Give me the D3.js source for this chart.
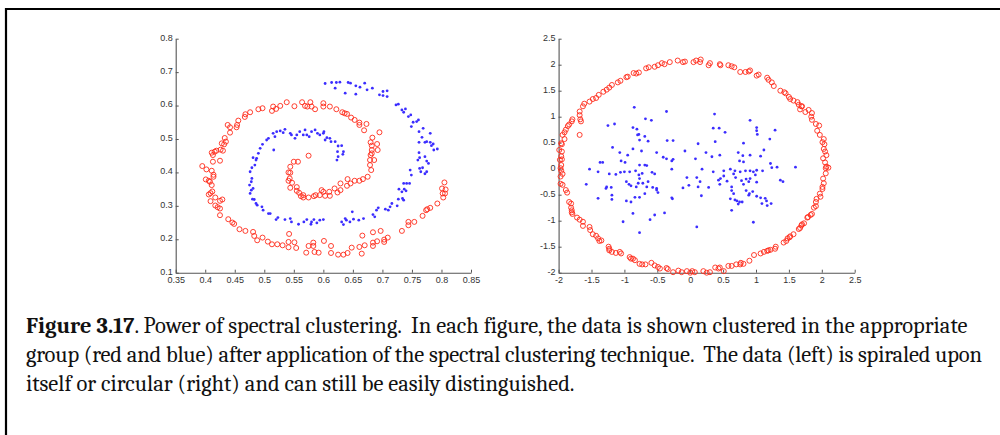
<!DOCTYPE html>
<html>
<head>
<meta charset="utf-8">
<script src="https://cdn.jsdelivr.net/npm/d3@7"></script>
<style>
  html, body { margin: 0; padding: 0; background: #fff; }
  svg { display: block; }
  .caption text { white-space: pre; }
</style>
</head>
<body>
<svg id="fig" width="1000" height="435"></svg>
<script>
// ---- Spiral data set (left panel) ----
const spiralXTicks = [0.35, 0.4, 0.45, 0.5, 0.55, 0.6, 0.65, 0.7, 0.75, 0.8, 0.85];
const spiralYTicks = [0.1, 0.2, 0.3, 0.4, 0.5, 0.6, 0.7, 0.8];

const spiralRed = [
  [0.395,0.419],[0.402,0.409],[0.411,0.405],[0.414,0.393],[0.414,0.387],[0.401,0.379],[0.406,0.375],[0.408,0.372],
  [0.411,0.362],[0.412,0.343],[0.409,0.338],[0.406,0.334],[0.409,0.314],[0.417,0.325],[0.425,0.315],[0.429,0.319],
  [0.417,0.301],[0.421,0.296],[0.425,0.292],[0.425,0.272],[0.439,0.26],[0.446,0.25],[0.449,0.246],[0.458,0.23],
  [0.468,0.225],[0.481,0.222],[0.483,0.21],[0.488,0.197],[0.497,0.205],[0.506,0.193],[0.513,0.185],[0.522,0.185],
  [0.531,0.182],[0.542,0.216],[0.541,0.192],[0.541,0.176],[0.551,0.191],[0.554,0.174],[0.571,0.16],[0.575,0.18],
  [0.583,0.19],[0.583,0.18],[0.585,0.162],[0.592,0.16],[0.601,0.195],[0.613,0.18],[0.613,0.159],[0.625,0.154],
  [0.634,0.154],[0.641,0.159],[0.648,0.175],[0.666,0.211],[0.661,0.177],[0.665,0.157],[0.670,0.182],[0.684,0.221],
  [0.684,0.19],[0.684,0.18],[0.691,0.194],[0.697,0.225],[0.703,0.199],[0.703,0.192],[0.709,0.205],[0.733,0.225],
  [0.744,0.252],[0.744,0.242],[0.754,0.252],[0.768,0.27],[0.774,0.287],[0.781,0.294],[0.776,0.29],[0.793,0.307],
  [0.801,0.352],[0.803,0.325],[0.806,0.337],[0.807,0.349],[0.802,0.337],[0.805,0.37],
  [0.438,0.542],[0.442,0.535],[0.442,0.519],[0.433,0.503],[0.435,0.492],[0.432,0.484],[0.428,0.487],[0.426,0.468],
  [0.430,0.465],[0.411,0.459],[0.416,0.462],[0.419,0.465],[0.413,0.452],[0.413,0.432],[0.425,0.435],[0.454,0.542],
  [0.456,0.555],[0.453,0.535],[0.468,0.574],[0.476,0.58],[0.467,0.566],[0.49,0.589],[0.497,0.592],[0.515,0.597],
  [0.520,0.59],[0.513,0.584],[0.527,0.599],[0.538,0.61],[0.551,0.598],[0.564,0.61],[0.569,0.599],[0.578,0.61],
  [0.573,0.597],[0.580,0.597],[0.586,0.589],[0.600,0.607],[0.600,0.597],[0.611,0.597],[0.622,0.589],[0.632,0.58],
  [0.636,0.577],[0.640,0.575],[0.647,0.564],[0.653,0.557],[0.661,0.549],[0.661,0.542],[0.673,0.545],[0.669,0.526],
  [0.683,0.504],[0.680,0.49],[0.682,0.48],[0.691,0.485],[0.695,0.52],[0.692,0.467],[0.682,0.467],[0.682,0.457],
  [0.680,0.452],[0.686,0.437],[0.679,0.437],[0.679,0.422],[0.681,0.407],[0.675,0.387],[0.667,0.38],[0.661,0.375],
  [0.653,0.375],[0.646,0.367],[0.640,0.36],[0.641,0.38],[0.629,0.367],[0.629,0.347],[0.624,0.34],[0.619,0.352],
  [0.610,0.342],[0.611,0.33],[0.603,0.33],[0.600,0.342],[0.594,0.332],[0.597,0.347],[0.587,0.332],[0.584,0.329],
  [0.575,0.45],[0.550,0.432],[0.557,0.432],[0.544,0.417],[0.541,0.40],[0.544,0.399],[0.543,0.382],[0.541,0.375],
  [0.547,0.369],[0.544,0.354],[0.555,0.356],[0.555,0.345],[0.559,0.339],[0.562,0.329],[0.566,0.332],[0.566,0.325],
  [0.575,0.325]
];

const spiralBlue = [
  [0.603,0.666],[0.614,0.669],[0.620,0.652],[0.622,0.669],[0.628,0.67],[0.637,0.637],[0.642,0.669],[0.646,0.667],
  [0.655,0.659],[0.655,0.634],[0.662,0.655],[0.670,0.667],[0.674,0.647],[0.683,0.652],[0.695,0.632],[0.701,0.642],
  [0.701,0.63],[0.708,0.644],[0.708,0.627],[0.723,0.602],[0.727,0.604],[0.733,0.587],[0.736,0.58],[0.739,0.59],
  [0.744,0.567],[0.748,0.572],[0.752,0.55],[0.761,0.557],[0.758,0.552],[0.762,0.522],[0.749,0.537],[0.769,0.532],
  [0.767,0.505],[0.762,0.49],[0.772,0.49],[0.781,0.49],[0.781,0.517],[0.786,0.485],[0.783,0.48],[0.775,0.492],
  [0.793,0.47],[0.787,0.467],[0.762,0.459],[0.763,0.444],[0.760,0.437],[0.772,0.447],[0.775,0.434],[0.763,0.412],
  [0.768,0.414],[0.765,0.402],[0.772,0.396],[0.775,0.402],[0.778,0.427],[0.747,0.407],[0.749,0.392],[0.741,0.367],
  [0.736,0.367],[0.746,0.367],[0.737,0.35],[0.740,0.345],[0.733,0.342],[0.728,0.35],[0.727,0.32],[0.734,0.322],
  [0.736,0.317],[0.716,0.307],[0.725,0.3],[0.713,0.297],[0.710,0.287],[0.705,0.29],[0.693,0.294],[0.690,0.287],
  [0.684,0.274],[0.687,0.267],[0.668,0.262],[0.660,0.257],[0.651,0.26],[0.649,0.282],[0.645,0.252],[0.639,0.257],
  [0.637,0.262],[0.631,0.252],[0.634,0.244],
  [0.600,0.259],[0.594,0.257],[0.589,0.249],[0.584,0.259],[0.580,0.252],[0.579,0.245],[0.572,0.259],[0.567,0.252],
  [0.558,0.245],[0.546,0.252],[0.544,0.262],[0.535,0.259],[0.523,0.265],[0.520,0.259],[0.510,0.277],[0.507,0.277],
  [0.498,0.287],[0.496,0.297],[0.488,0.302],[0.486,0.307],[0.483,0.319],[0.480,0.32],[0.476,0.337],[0.478,0.347],
  [0.481,0.352],[0.475,0.362],[0.478,0.372],[0.479,0.382],[0.476,0.402],[0.479,0.414],[0.484,0.422],[0.486,0.437],
  [0.487,0.442],[0.481,0.444],[0.490,0.457],[0.493,0.472],[0.497,0.484],[0.504,0.497],[0.507,0.502],[0.518,0.507],
  [0.515,0.517],[0.521,0.522],[0.527,0.524],[0.532,0.519],[0.535,0.529],[0.544,0.517],[0.546,0.512],[0.552,0.502],
  [0.555,0.512],[0.560,0.522],[0.566,0.512],[0.569,0.527],[0.572,0.512],[0.576,0.507],[0.580,0.522],[0.586,0.527],
  [0.590,0.517],[0.594,0.512],[0.600,0.517],[0.601,0.522],[0.603,0.497],[0.606,0.504],[0.611,0.502],[0.613,0.492],
  [0.620,0.492],[0.625,0.479],[0.624,0.462],[0.631,0.48],[0.634,0.462],[0.633,0.454],[0.625,0.447],[0.623,0.437],
  [0.516,0.467]
];

// ---- Ring data set (right panel) ----
const ringXTicks = [-2, -1.5, -1, -0.5, 0, 0.5, 1, 1.5, 2, 2.5];
const ringYTicks = [-2, -1.5, -1, -0.5, 0, 0.5, 1, 1.5, 2, 2.5];

const ringRed = [
  [-0.43,2.03],[-0.39,2.01],[-0.31,2.05],[-0.19,2.08],[-0.11,2.05],[-0.08,2.06],[0.05,2.05],[0.09,2.08],
  [0.16,2.10],[0.15,2.05],[0.30,2.03],[0.28,1.99],[0.45,2.01],[0.46,1.99],[0.58,1.99],[0.63,1.97],
  [0.67,1.95],[0.76,1.86],[0.84,1.86],[0.89,1.87],[0.91,1.89],[1.01,1.79],[1.04,1.81],[1.17,1.75],
  [1.19,1.71],[1.24,1.66],[1.27,1.59],[1.37,1.50],[1.43,1.47],[1.45,1.45],[1.50,1.38],[1.52,1.34],
  [1.57,1.31],[1.63,1.28],[1.65,1.23],[1.69,1.20],[1.70,1.20],[1.67,1.14],[1.75,1.09],[1.80,1.13],
  [1.85,1.07],[1.84,1.00],[1.85,0.94],[1.91,0.86],[1.96,0.83],[1.93,0.73],[1.97,0.65],[2.03,0.57],
  [2.01,0.51],[2.04,0.47],[2.03,0.38],[2.05,0.33],[2.07,0.26],[2.02,0.20],[2.05,0.12],[2.10,0.02],
  [2.07,0.04],[2.06,0.01],[2.06,-0.09],[2.02,-0.19],[2.03,-0.28],[2.01,-0.35],[2.01,-0.39],[1.97,-0.48],
  [1.98,-0.54],[1.92,-0.58],[1.91,-0.64],[1.91,-0.72],[1.88,-0.75],[1.85,-0.87],[1.83,-0.89],[1.79,-0.93],
  [1.78,-0.94],[1.73,-1.05],[1.70,-1.07],[1.69,-1.09],[1.67,-1.14],[1.65,-1.16],[1.57,-1.26],[1.52,-1.30],
  [1.51,-1.32],[1.48,-1.34],[1.46,-1.39],[1.42,-1.42],[1.30,-1.50],[1.29,-1.54],[1.22,-1.56],[1.19,-1.57],
  [1.17,-1.58],[1.12,-1.60],[1.07,-1.63],[0.97,-1.66],[0.90,-1.77],[0.81,-1.83],[0.77,-1.81],[0.76,-1.84],
  [0.70,-1.84],[0.63,-1.87],[0.58,-1.87],[0.51,-1.97],[0.45,-1.90],[0.43,-1.92],[0.38,-1.90],[0.30,-1.99],
  [0.25,-2.00],[0.20,-1.97],[0.07,-1.99],[0.03,-1.97],[0.00,-2.00],[-0.05,-1.97],[-0.13,-1.99],[-0.18,-1.96],
  [-0.26,-1.99],[-0.34,-1.93],[-0.36,-1.91],[-0.46,-1.92],[-0.49,-1.89],[-0.54,-1.86],[-0.59,-1.81],[-0.68,-1.84],
  [-0.73,-1.84],[-0.77,-1.83],[-0.84,-1.76],[-0.87,-1.73],[-0.90,-1.73],[-0.92,-1.70],[-1.05,-1.63],[-1.07,-1.60],
  [-1.13,-1.62],[-1.19,-1.60],[-1.23,-1.57],[-1.23,-1.54],[-1.24,-1.50],[-1.35,-1.38],[-1.38,-1.39],[-1.40,-1.34],
  [-1.43,-1.29],[-1.48,-1.26],[-1.52,-1.18],[-1.53,-1.12],[-1.63,-1.10],[-1.63,-1.02],[-1.68,-0.98],[-1.72,-0.94],
  [-1.79,-0.87],[-1.80,-0.84],[-1.80,-0.80],[-1.81,-0.75],[-1.81,-0.67],[-1.84,-0.64],[-1.87,-0.46],[-1.89,-0.41],
  [-1.94,-0.31],[-1.97,-0.29],[-1.97,-0.15],[-1.94,-0.10],[-1.96,-0.04],[-1.97,0.01],[-1.96,0.07],[-1.98,0.17],
  [-1.95,0.18],[-1.96,0.24],[-1.95,0.33],[-1.99,0.36],[-1.95,0.47],[-1.96,0.49],[-1.91,0.57],[-1.94,0.65],
  [-1.91,0.70],[-1.89,0.75],[-1.86,0.82],[-1.84,0.85],[-1.80,0.91],[-1.79,0.95],[-1.66,0.91],[-1.67,0.95],
  [-1.68,1.03],[-1.68,1.10],[-1.63,1.20],[-1.61,1.25],[-1.53,1.29],[-1.48,1.34],[-1.43,1.36],[-1.39,1.42],
  [-1.32,1.48],[-1.27,1.52],[-1.23,1.56],[-1.19,1.61],[-1.10,1.66],[-1.06,1.69],[-0.97,1.76],[-0.95,1.77],
  [-0.86,1.84],[-0.82,1.83],[-0.78,1.85],[-0.67,1.93],[-0.63,1.95],[-0.54,1.96],[-0.49,1.99],[-1.68,0.65]
];

const ringBlue = [
  [-0.85,1.18],[-0.36,1.10],[0.37,1.05],[-0.68,0.96],[-0.59,0.93],[-1.25,0.83],[-1.15,0.86],[0.91,0.93],
  [1.01,0.79],[1.01,0.73],[1.02,0.66],[1.29,0.74],[-0.35,0.54],[-0.26,0.54],[-0.78,0.66],[-0.80,0.65],
  [-0.77,0.55],[-0.64,0.53],[-0.87,0.79],[-0.81,0.76],[-0.69,0.62],[0.35,0.78],[0.44,0.78],[0.38,0.52],
  [0.53,0.70],[0.81,0.49],[0.12,0.48],[-1.18,0.41],[-0.08,0.34],[-0.87,0.38],[-0.74,0.34],[-0.51,0.31],
  [-1.07,0.31],[-0.95,0.26],[-0.41,0.22],[-0.36,0.19],[-0.26,0.18],[-0.28,0.15],[1.21,0.57],[1.12,0.36],
  [1.07,0.24],[0.91,0.26],[0.80,0.25],[0.73,0.31],[0.81,0.13],[0.75,0.15],[0.45,0.26],[0.33,0.23],
  [0.24,0.31],[0.08,0.19],[-1.37,0.12],[-1.33,0.12],[-1.05,0.15],[-0.99,0.12],[-0.77,0.07],[-0.69,0.07],
  [-0.66,0.06],[-1.53,-0.01],[-1.40,-0.06],[-1.23,-0.10],[-1.13,-0.11],[-1.06,-0.07],[-1.00,-0.06],[-0.92,-0.06],
  [-0.83,-0.04],[-0.73,-0.09],[-0.78,-0.12],[-0.58,-0.07],[-0.54,-0.10],[-0.28,-0.01],[1.24,0.02],[1.32,0.03],
  [1.22,0.10],[1.60,0.03],[0.18,-0.01],[0.35,-0.06],[0.51,-0.04],[0.61,-0.01],[0.68,-0.04],[0.76,-0.06],
  [0.66,-0.10],[0.84,-0.04],[0.91,-0.04],[0.96,-0.06],[1.01,-0.03],[1.10,-0.04],[0.99,-0.12],[0.91,-0.19],
  [0.85,-0.20],[0.78,-0.23],[0.69,-0.17],[0.51,-0.14],[0.46,-0.19],[0.43,-0.22],[0.56,-0.24],[-0.05,-0.17],
  [0.10,-0.17],[0.15,-0.25],[1.37,-0.22],[1.41,-0.25],[-1.58,-0.30],[-1.27,-0.35],[-1.28,-0.38],[-1.20,-0.36],
  [-0.97,-0.25],[-0.93,-0.30],[-0.90,-0.33],[-0.82,-0.35],[-0.77,-0.19],[-0.79,-0.28],[-0.72,-0.28],[-0.66,-0.35],
  [-0.64,-0.25],[-0.57,-0.36],[-0.51,-0.38],[-0.11,-0.37],[-0.02,-0.32],[0.12,-0.35],[0.28,-0.36],[0.45,-0.30],
  [0.63,-0.35],[0.81,-0.30],[0.89,-0.25],[1.01,-0.26],[0.63,-0.42],[0.66,-0.48],[0.85,-0.42],[0.95,-0.44],
  [0.90,-0.48],[1.07,-0.56],[1.14,-0.57],[1.16,-0.62],[1.01,-0.53],[1.09,-0.67],[1.23,-0.67],[1.17,-0.71],
  [0.61,-0.58],[0.68,-0.60],[0.71,-0.62],[0.75,-0.64],[0.79,-0.64],[0.73,-0.68],[0.63,-0.80],[0.89,-0.51],
  [-1.19,-0.51],[-1.19,-0.59],[-0.97,-0.62],[-0.90,-0.64],[-0.84,-0.55],[-0.77,-0.55],[-0.69,-0.48],[-0.51,-0.41],
  [-0.49,-0.46],[-0.27,-0.58],[-0.28,-0.56],[0.17,-0.52],[-1.40,-0.57],[-0.87,-0.86],[-0.61,-0.98],[-0.54,-0.89],
  [-0.39,-0.85],[-1.02,-1.02],[0.10,-1.12],[0.96,-1.03],[-0.77,-1.23]
];

// ---- Caption ----
const captionLines = [
  [{ t: "Figure 3.17", b: true }, { t: ". Power of spectral clustering.  In each figure, the data is shown clustered in the appropriate", b: false }],
  [{ t: "group (red and blue) after application of the spectral clustering technique.  The data (left) is spiraled upon", b: false }],
  [{ t: "itself or circular (right) and can still be easily distinguished.", b: false }]
];
// line widths of the set caption block
const captionWidths = [942, 956, 547];

const svg = d3.select("#fig");

// page frame (top and left rules of the bordered box)
svg.append("path")
  .attr("d", "M6,435 V9 H1000")
  .attr("fill", "none")
  .attr("stroke", "#000")
  .attr("stroke-width", 2.2);

const fmt = v => String(v);

function panel(cfg) {
  const x = d3.scaleLinear().domain(cfg.xDomain).range(cfg.xRange);
  const y = d3.scaleLinear().domain(cfg.yDomain).range(cfg.yRange);
  const g = svg.append("g");

  const xAxis = d3.axisBottom(x).tickValues(cfg.xTicks).tickFormat(fmt)
    .tickSizeInner(-3).tickSizeOuter(0).tickPadding(3);
  const yAxis = d3.axisLeft(y).tickValues(cfg.yTicks).tickFormat(fmt)
    .tickSizeInner(-3).tickSizeOuter(0).tickPadding(3);

  const gx = g.append("g").attr("transform", `translate(0,${cfg.yRange[0]})`).call(xAxis);
  const gy = g.append("g").attr("transform", `translate(${cfg.xRange[0]},0)`).call(yAxis);
  [gx, gy].forEach(a => {
    a.select(".domain").attr("stroke", "#555").attr("stroke-width", 1.1);
    a.selectAll(".tick line").attr("stroke", "#555");
    a.selectAll(".tick text")
      .attr("fill", "#333")
      .style("font-family", "'Liberation Sans', Arial, sans-serif")
      .style("font-size", "9px");
  });
  gy.selectAll(".tick text").attr("dy", "0.15em");
  gx.selectAll(".tick text").attr("dy", "0.8em");

  g.append("g").selectAll("circle.red").data(cfg.red).join("circle")
    .attr("class", "red")
    .attr("cx", d => x(d[0])).attr("cy", d => y(d[1]))
    .attr("r", 2.5)
    .attr("fill", "none")
    .attr("stroke", "#ff2a1a")
    .attr("stroke-width", 0.9);

  g.append("g").selectAll("circle.blue").data(cfg.blue).join("circle")
    .attr("class", "blue")
    .attr("cx", d => x(d[0])).attr("cy", d => y(d[1]))
    .attr("r", 1.4)
    .attr("fill", "#3b2dff");
}

panel({
  xDomain: [0.35, 0.85], xRange: [175.7, 471],
  yDomain: [0.1, 0.8], yRange: [272.7, 38.7],
  xTicks: spiralXTicks, yTicks: spiralYTicks,
  red: spiralRed, blue: spiralBlue
});

panel({
  xDomain: [-2, 2.5], xRange: [558.6, 854.7],
  yDomain: [-2, 2.5], yRange: [272.7, 38.7],
  xTicks: ringXTicks, yTicks: ringYTicks,
  red: ringRed, blue: ringBlue
});

// caption text
const cap = svg.append("g")
  .attr("class", "caption")
  .style("font-family", "Cambria, 'Liberation Serif', 'DejaVu Serif', serif")
  .attr("fill", "#111");

const baselines = [333, 362, 391];
const texts = captionLines.map((line, i) => {
  const t = cap.append("text").attr("x", 26).attr("y", baselines[i])
    .attr("xml:space", "preserve").style("font-size", "17px");
  line.forEach(s => t.append("tspan").text(s.t).attr("font-weight", s.b ? "bold" : null));
  return t;
});
// size the caption from the first line, then even out the word spacing per line
const w0 = texts[0].node().getComputedTextLength();
const size = 17 * captionWidths[0] / w0;
texts.forEach((t, i) => {
  t.style("font-size", size.toFixed(2) + "px");
  const w = t.node().getComputedTextLength();
  if (Math.abs(w - captionWidths[i]) > 4) {
    t.attr("textLength", captionWidths[i]).attr("lengthAdjust", "spacing");
  }
});
</script>
</body>
</html>
